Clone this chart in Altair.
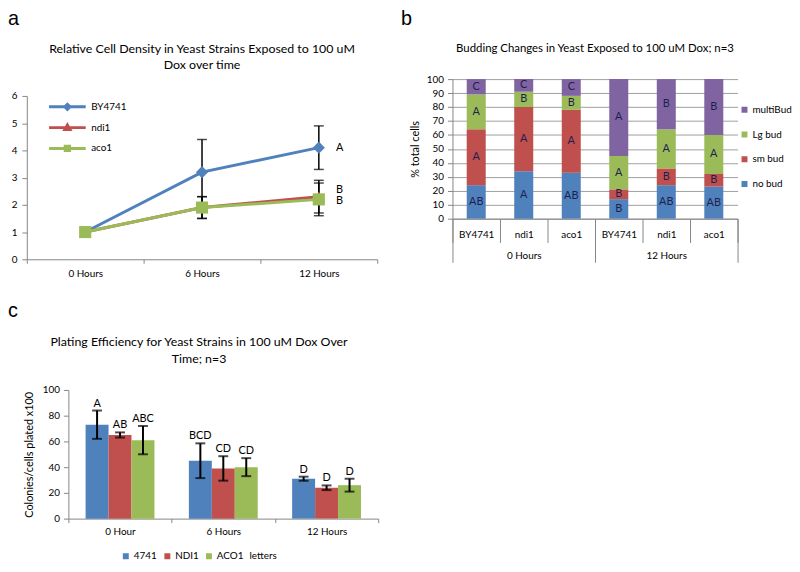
import altair as alt
import pandas as pd

FONT = "Lato"
BLUE, RED, GREEN, PURPLE = "#4F81BD", "#C0504D", "#9BBB59", "#8064A2"
AXIS_GRAY = "#868686"
LETTER_COLOR = "#1f1f4f"

# ---------------- panel a data ----------------
a_times = ["0 Hours", "6 Hours", "12 Hours"]
a_strains = ["BY4741", "ndi1", "aco1"]
a_by4741 = [1.0, 3.2, 4.1]
a_ndi1 = [1.0, 1.9, 2.3]
a_aco1 = [1.0, 1.9, 2.2]
a_by4741_err = [0.0, 1.2, 0.8]
a_ndi1_err = [0.0, 0.4, 0.6]
a_aco1_err = [0.0, 0.4, 0.6]
a_letters = ["A", "B", "B"]          # letters at 12 Hours, one per strain
a_colors = [BLUE, RED, GREEN]
a_shapes = ["diamond", "triangle-up", "square"]
a_title = "Relative Cell Density in Yeast Strains Exposed to 100 uM\nDox over time"

# ---------------- panel b data ----------------
b_times = ["0 Hours", "12 Hours"]
b_strains = ["BY4741", "ndi1", "aco1"]
b_cats = ["no bud", "sm bud", "Lg bud", "multiBud"]
b_no_bud = [24, 34, 33, 14, 24, 23]
b_sm_bud = [40, 46, 45, 7, 12, 9]
b_lg_bud = [25, 11, 10, 24, 28, 28]
b_multi_bud = [11, 9, 12, 55, 36, 40]
b_no_bud_letters = ["AB", "A", "AB", "B", "AB", "AB"]
b_sm_bud_letters = ["A", "A", "A", "B", "B", "B"]
b_lg_bud_letters = ["A", "B", "B", "A", "A", "A"]
b_multi_bud_letters = ["C", "C", "C", "A", "B", "B"]
b_legend_order = ["multiBud", "Lg bud", "sm bud", "no bud"]
b_legend_colors = [PURPLE, GREEN, RED, BLUE]
b_title = "Budding Changes in Yeast Exposed to 100 uM Dox; n=3"

# ---------------- panel c data ----------------
c_times = ["0 Hour", "6 Hours", "12 Hours"]
c_strains = ["4741", "NDI1", "ACO1"]
c_4741 = [73, 45, 31]
c_ndi1 = [65, 39, 24]
c_aco1 = [61, 40, 26]
c_4741_err = [11, 13.5, 1.6]
c_ndi1_err = [2, 9.5, 1.8]
c_aco1_err = [11, 7, 5]
c_4741_letters = ["A", "BCD", "D"]
c_ndi1_letters = ["AB", "CD", "D"]
c_aco1_letters = ["ABC", "CD", "D"]
c_title = "Plating Efficiency for Yeast Strains in 100 uM Dox Over\nTime; n=3"
c_extra_legend = "letters"

# ---------------- canvas / panel geometry (pixels) ----------------
W, H = 792, 556
A_X, A_Y = [19, 373], [251, 86]
B_X, B_Y = [449, 737], [210, 69]
C_X, C_Y = [61, 374], [513, 383]


def text_layer(txt, x, y, **kw):
    return alt.Chart(pd.DataFrame({"t": [txt]})).mark_text(**kw).encode(
        text="t:N", x=alt.value(x), y=alt.value(y))


def tag(txt, x, y):
    return text_layer(txt, x, y, align="left", baseline="alphabetic", fontSize=20,
                      font="Liberation Sans", color="black")


# =============== panel a ===============
rows = []
for s, vals, errs, let in zip(a_strains, [a_by4741, a_ndi1, a_aco1],
                              [a_by4741_err, a_ndi1_err, a_aco1_err], a_letters):
    for i, (t, v, e) in enumerate(zip(a_times, vals, errs)):
        rows.append(dict(strain=s, time=t, value=v, err=e, lo=v - e, hi=v + e,
                         letter=let if i == len(a_times) - 1 else ""))
a_df = pd.DataFrame(rows)
a_err_df = a_df[a_df.err > 0]

a_x = alt.X("time:N", sort=a_times,
            scale=alt.Scale(domain=a_times, range=A_X, paddingInner=0, paddingOuter=0),
            axis=alt.Axis(orient="bottom", offset=A_Y[0] - H, title=None, labelAngle=0,
                          tickBand="extent", tickSize=4, labelPadding=5, labelFontSize=10,
                          grid=False))
a_yscale = alt.Scale(domain=[0, 6], range=A_Y, nice=False, zero=True)
a_yaxis = alt.Axis(orient="left", offset=-A_X[0], title=None, values=[0, 1, 2, 3, 4, 5, 6],
                   tickSize=5, labelPadding=5, labelFontSize=10, grid=False)


def a_y(field):
    return alt.Y(field, scale=a_yscale, axis=a_yaxis)


col_expr = ("datum.value == 'BY4741' ? '%s' : datum.value == 'ndi1' ? '%s' : '%s'"
            % (BLUE, RED, GREEN))
sym_expr = ("datum.value == 'BY4741' ? "
            "'M-1,0L-0.14,0L0,-0.14L0.14,0L0,0.14L-0.14,0L1,0' : "
            "datum.value == 'ndi1' ? "
            "'M-1,0L-0.08,0L0,-0.14L0.14,0.1L-0.14,0.1L-0.08,0L1,0' : "
            "'M-1,0L-0.12,0L-0.12,-0.12L0.12,-0.12L0.12,0.12L-0.12,0.12L-0.12,0L1,0'")
a_legend = alt.Legend(orient="none", legendX=40, legendY=91, title=None,
                      symbolType={"expr": sym_expr}, symbolSize=1369,
                      symbolStrokeWidth=3, symbolFillColor={"expr": col_expr},
                      symbolStrokeColor={"expr": col_expr},
                      labelFontSize=10, labelColor="black", clipHeight=12,
                      rowPadding=9, padding=0, labelOffset=4)
a_color = alt.Color("strain:N", sort=a_strains,
                    scale=alt.Scale(domain=a_strains, range=a_colors), legend=a_legend)

a_err_base = alt.Chart(a_err_df)
a_layers = [
    a_err_base.mark_rule(color="black", strokeWidth=1.5).encode(x=a_x, y=a_y("lo:Q"), y2="hi:Q"),
    a_err_base.mark_tick(color="black", thickness=1.5, size=10).encode(x=a_x, y=a_y("lo:Q")),
    a_err_base.mark_tick(color="black", thickness=1.5, size=10).encode(x=a_x, y=a_y("hi:Q")),
    alt.Chart(a_df).mark_line(strokeWidth=3).encode(x=a_x, y=a_y("value:Q"), color=a_color),
]
for s, shp in zip(a_strains, a_shapes):
    a_layers.append(
        alt.Chart(a_df[a_df.strain == s]).mark_point(filled=True, size=150, opacity=1, shape=shp)
        .encode(x=a_x, y=a_y("value:Q"), color=a_color))
for s, dy in zip(a_strains, [0, -7, 2]):
    a_layers.append(
        alt.Chart(a_df[(a_df.strain == s) & (a_df.letter != "")])
        .mark_text(dx=21, dy=dy, fontSize=11, color="black")
        .encode(x=a_x, y=a_y("value:Q"), text="letter:N"))
panel_a = alt.layer(*a_layers)

# =============== panel b ===============
b_keys = [f"{g}|{s}" for g in b_times for s in b_strains]
rows = []
cat_vals = [b_no_bud, b_sm_bud, b_lg_bud, b_multi_bud]
cat_lets = [b_no_bud_letters, b_sm_bud_letters, b_lg_bud_letters, b_multi_bud_letters]
for i, key in enumerate(b_keys):
    cum = 0
    for o, (cat, vals, lets) in enumerate(zip(b_cats, cat_vals, cat_lets)):
        v = vals[i]
        rows.append(dict(key=key, cat=cat, value=v, order=o, mid=cum + v / 2, letter=lets[i]))
        cum += v
b_df = pd.DataFrame(rows)

b_x = alt.X("key:N", sort=b_keys,
            scale=alt.Scale(domain=b_keys, range=B_X, paddingInner=0, paddingOuter=0),
            axis=alt.Axis(orient="bottom", offset=B_Y[0] - H, title=None,
                          labelExpr="split(datum.label, '|')[1]", labelAngle=0,
                          tickBand="extent", tickSize=24, labelPadding=-13,
                          labelFontSize=10, grid=False))
b_yscale = alt.Scale(domain=[0, 100], range=B_Y, nice=False)
b_yaxis = alt.Axis(orient="left", offset=-B_X[0], title="% total cells",
                   values=list(range(0, 101, 10)), grid=True, gridColor=AXIS_GRAY,
                   gridWidth=0.8, tickSize=5, labelPadding=4, labelFontSize=10,
                   titleFontSize=11, titlePadding=6)
b_legend = alt.Legend(orient="none", legendX=739, legendY=94, title=None,
                      symbolType="square", symbolSize=36, symbolStrokeWidth=0,
                      labelFontSize=10, labelColor="black", clipHeight=12,
                      rowPadding=13, padding=0, labelOffset=3)
b_bars = alt.Chart(b_df).mark_bar(width={"band": 0.4}).encode(
    x=b_x,
    y=alt.Y("value:Q", stack="zero", scale=b_yscale, axis=b_yaxis),
    color=alt.Color("cat:N", scale=alt.Scale(domain=b_legend_order, range=b_legend_colors),
                    legend=b_legend),
    order=alt.Order("order:Q"))
b_text = alt.Chart(b_df).mark_text(fontSize=11, color=LETTER_COLOR).encode(
    x=b_x, y=alt.Y("mid:Q", stack=None, scale=b_yscale, axis=b_yaxis), text="letter:N")
b_main = alt.layer(b_bars, b_text)
b_grp = alt.Chart(pd.DataFrame({"group": b_times})).mark_point(opacity=0).encode(
    x=alt.X("group:N", sort=b_times,
            scale=alt.Scale(domain=b_times, range=B_X, paddingInner=0, paddingOuter=0),
            axis=alt.Axis(orient="bottom", offset=B_Y[0] - H, title=None, labelAngle=0,
                          tickBand="extent", tickSize=44, labelPadding=-12, domain=False,
                          labelFontSize=10, grid=False)))
panel_b = alt.layer(b_main, b_grp).resolve_scale(x="independent")

# =============== panel c ===============
rows = []
for s, vals, errs, lets in zip(c_strains, [c_4741, c_ndi1, c_aco1],
                               [c_4741_err, c_ndi1_err, c_aco1_err],
                               [c_4741_letters, c_ndi1_letters, c_aco1_letters]):
    for t, v, e, l in zip(c_times, vals, errs, lets):
        rows.append(dict(strain=s, time=t, value=v, lo=v - e, hi=v + e, letter=l))
c_df = pd.DataFrame(rows)

c_x = alt.X("time:N", sort=c_times,
            scale=alt.Scale(domain=c_times, range=C_X, paddingInner=0, paddingOuter=0),
            axis=alt.Axis(orient="bottom", offset=C_Y[0] - H, title=None, labelAngle=0,
                          tickBand="extent", tickSize=4, labelPadding=4, labelFontSize=10,
                          grid=False))
c_xoff = alt.XOffset("strain:N", sort=c_strains,
                     scale=alt.Scale(domain=c_strains, paddingInner=0, paddingOuter=0.75))
c_yscale = alt.Scale(domain=[0, 100], range=C_Y, nice=False)
c_yaxis = alt.Axis(orient="left", offset=-C_X[0], title="Colonies/cells plated x100",
                   values=[0, 20, 40, 60, 80, 100], tickSize=5, labelPadding=4,
                   labelFontSize=10, titleFontSize=11, titlePadding=8, grid=False)
c_legend = alt.Legend(orient="none", legendX=114, legendY=545, title=None,
                      direction="horizontal", columns=3, symbolType="square",
                      symbolSize=36, symbolStrokeWidth=0, labelFontSize=10,
                      labelColor="black", clipHeight=12, columnPadding=5, padding=0,
                      labelOffset=3, gridAlign="each")


def c_y(field):
    return alt.Y(field, scale=c_yscale, axis=c_yaxis)


c_base = alt.Chart(c_df)
c_bars = c_base.mark_bar().encode(
    x=c_x, xOffset=c_xoff, y=c_y("value:Q"),
    color=alt.Color("strain:N", scale=alt.Scale(domain=c_strains, range=[BLUE, RED, GREEN]),
                    legend=c_legend))
c_rules = c_base.mark_rule(color="black", strokeWidth=2).encode(
    x=c_x, xOffset=c_xoff, y=c_y("lo:Q"), y2="hi:Q")
c_cap_lo = c_base.mark_tick(color="black", thickness=2, size=10).encode(
    x=c_x, xOffset=c_xoff, y=c_y("lo:Q"))
c_cap_hi = c_base.mark_tick(color="black", thickness=2, size=10).encode(
    x=c_x, xOffset=c_xoff, y=c_y("hi:Q"))
c_text = c_base.mark_text(dy=-7, fontSize=11, color="black").encode(
    x=c_x, xOffset=c_xoff, y=c_y("hi:Q"), text="letter:N")
panel_c = alt.layer(c_bars, c_rules, c_cap_lo, c_cap_hi, c_text)

# =============== annotations ===============
notes = alt.layer(
    tag("a", 0, 14), tag("b", 397, 14), tag("c", 0, 309),
    text_layer(a_title, sum(A_X) / 2, 39, align="center", baseline="middle", fontSize=12.5,
               lineBreak="\n", lineHeight=16, color="black"),
    text_layer(b_title, sum(B_X) / 2, 39, align="center", baseline="middle", fontSize=11.5,
               color="black"),
    text_layer(c_title, 193, 335, align="center", baseline="middle", fontSize=12.5,
               lineBreak="\n", lineHeight=17, color="black"),
    text_layer(c_extra_legend, 244, 551, align="left", baseline="middle", fontSize=10,
               color="black"),
)

chart = alt.layer(panel_a, panel_b, panel_c, notes).resolve_scale(
    x="independent", y="independent", color="independent"
).properties(
    width=W, height=H, padding=0, autosize=alt.AutoSizeParams(type="none")
).configure(font=FONT).configure_view(stroke=None).configure_axis(
    labelColor="black", titleColor="black", titleFontWeight="normal",
    domainColor=AXIS_GRAY, tickColor=AXIS_GRAY
)

chart.save("out.html", embed_options={"renderer": "svg", "actions": False})
